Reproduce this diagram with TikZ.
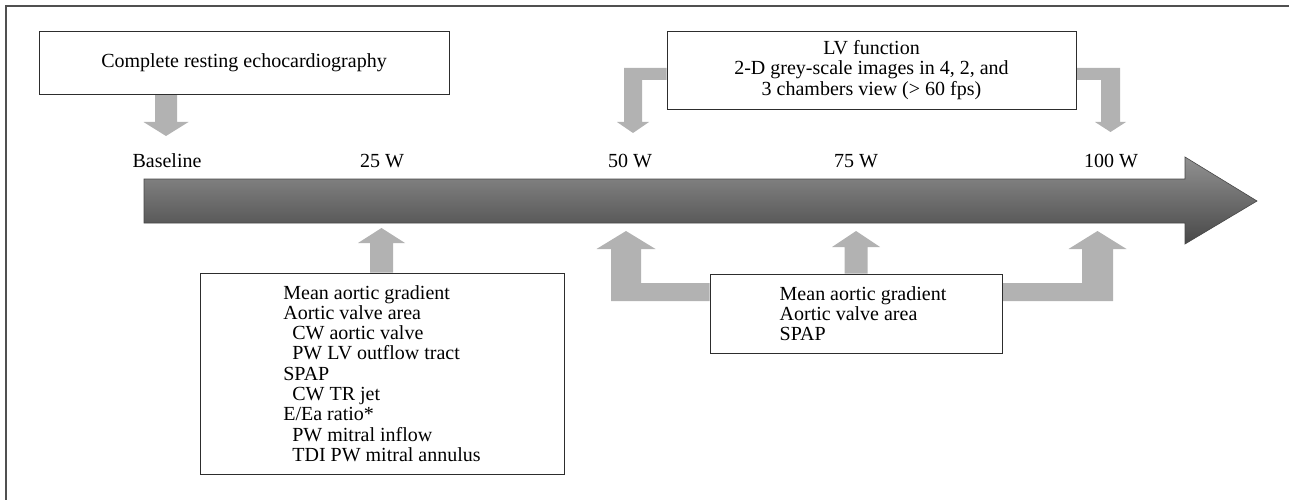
\documentclass[tikz,border=0pt]{standalone}
\usepackage{fontspec}
\setmainfont{Liberation Serif}
\usetikzlibrary{calc,backgrounds}
\definecolor{fatgrey}{RGB}{178,178,178}
\definecolor{framec}{RGB}{80,80,80}
\definecolor{boxc}{RGB}{45,45,45}
\definecolor{tltop}{RGB}{145,145,145}
\definecolor{tlbot}{RGB}{72,72,72}
\newcommand\fatarrow[5]{%
  \fill[fat] let \p1=(#1), \p2=(#2), \n1={ifthenelse(\y2<\y1,1,-1)} in
    ({\x2-#3pt},\y1) -- ({\x2-#3pt},{\y2+\n1*#5pt}) -- ({\x2-#4pt},{\y2+\n1*#5pt}) -- (\x2,\y2)
    -- ({\x2+#4pt},{\y2+\n1*#5pt}) -- ({\x2+#3pt},{\y2+\n1*#5pt}) -- ({\x2+#3pt},\y1) -- cycle;}
\begin{document}
\begin{tikzpicture}[x=1pt,y=-1pt,
  txt/.style={font=\fontsize{20}{20.3}\selectfont},
  box/.style={txt,draw=boxc,line width=0.9pt,fill=white,inner sep=0pt},
  lbl/.style={txt,anchor=base,inner sep=0pt},
  fat/.style={fill=fatgrey}]
\useasboundingbox (0,0) rectangle (1289,500);
\draw[framec,line width=1.5pt] (6,500) -- (6,6) -- (1289,6);

% boxes
\node[box,minimum width=410pt,minimum height=63pt] (rest) at (244,62.5) {Complete resting echocardiography};
\node[box,minimum width=409pt,minimum height=78pt,align=center] (lv) at (871.5,70)
  {LV function\\2-D grey-scale images in 4, 2, and\\3 chambers view (> 60 fps)};
\node[box,minimum width=364pt,minimum height=201pt,align=left] (early) at (382,373.5)
  {Mean aortic gradient\\Aortic valve area\\\hspace*{9pt}CW aortic valve\\\hspace*{9pt}PW LV outflow tract\\SPAP\\\hspace*{9pt}CW TR jet\\E/Ea ratio*\\\hspace*{9pt}PW mitral inflow\\\hspace*{9pt}TDI PW mitral annulus};
\node[box,minimum width=292pt,minimum height=79pt,align=left] (late) at (856,313.5)
  {\hspace*{14pt}Mean aortic gradient\\\hspace*{14pt}Aortic valve area\\\hspace*{14pt}SPAP};

% stage labels
\node[lbl] (w0) at (167,167) {Baseline};
\node[lbl] (w25) at (382,167) {25 W};
\node[lbl] (w50) at (630,167) {50 W};
\node[lbl] (w75) at (856,167) {75 W};
\node[lbl] (w100) at (1111,167) {100 W};

% arrow tips
\coordinate (tB) at (166,136);
\coordinate (t25u) at (381.5,228);
\coordinate (t75u) at (856,231);
\coordinate (t50d) at (633,133);
\coordinate (t100d) at (1110.5,132);
\coordinate (t50u) at (626,231);
\coordinate (t100u) at (1097.5,231);
\coordinate (ts) at (144,201);
\coordinate (te) at (1257,201);

\begin{pgfonlayer}{background}
\fatarrow{rest.south}{tB}{11}{22.5}{14}
\fatarrow{early.north}{t25u}{11.5}{23.5}{15}
\fatarrow{late.north}{t75u}{11.5}{24}{16}
% L-shaped from LV box
\fill[fat] let \p1=(lv.west), \p2=(t50d) in
  (\x1,-68pt) -- ({\x2-9pt},-68pt) -- ({\x2-9pt},{\y2+11pt}) -- ({\x2-16pt},{\y2+11pt}) -- (\x2,\y2)
  -- ({\x2+16pt},{\y2+11pt}) -- ({\x2+9pt},{\y2+11pt}) -- ({\x2+9pt},-80pt) -- (\x1,-80pt) -- cycle;
\fill[fat] let \p1=(lv.east), \p2=(t100d) in
  (\x1,-68pt) -- ({\x2+9.5pt},-68pt) -- ({\x2+9.5pt},{\y2+10pt}) -- ({\x2+15.5pt},{\y2+10pt}) -- (\x2,\y2)
  -- ({\x2-15.5pt},{\y2+10pt}) -- ({\x2-9.5pt},{\y2+10pt}) -- ({\x2-9.5pt},-80pt) -- (\x1,-80pt) -- cycle;
% L-shaped from late box
\fill[fat] let \p1=(late.west), \p2=(t50u) in
  (\x1,-283pt) -- ({\x2+15pt},-283pt) -- ({\x2+15pt},{\y2-18pt}) -- ({\x2+29.5pt},{\y2-18pt}) -- (\x2,\y2)
  -- ({\x2-29.5pt},{\y2-18pt}) -- ({\x2-15pt},{\y2-18pt}) -- ({\x2-15pt},-301pt) -- (\x1,-301pt) -- cycle;
\fill[fat] let \p1=(late.east), \p2=(t100u) in
  (\x1,-283pt) -- ({\x2-15.5pt},-283pt) -- ({\x2-15.5pt},{\y2-18pt}) -- ({\x2-29pt},{\y2-18pt}) -- (\x2,\y2)
  -- ({\x2+29pt},{\y2-18pt}) -- ({\x2+15.5pt},{\y2-18pt}) -- ({\x2+15.5pt},-301pt) -- (\x1,-301pt) -- cycle;
\end{pgfonlayer}

% timeline arrow
\path[draw=black!72,line width=0.6pt,top color=tltop,bottom color=tlbot] let \p1=(ts), \p2=(te) in
  (\x1,{\y1+22pt}) -- ({\x2-72pt},{\y1+22pt}) -- ({\x2-72pt},{\y1+44pt}) -- (\x2,\y2)
  -- ({\x2-72pt},{\y1-43pt}) -- ({\x2-72pt},{\y1-22pt}) -- (\x1,{\y1-22pt}) -- cycle;
\end{tikzpicture}
\end{document}
